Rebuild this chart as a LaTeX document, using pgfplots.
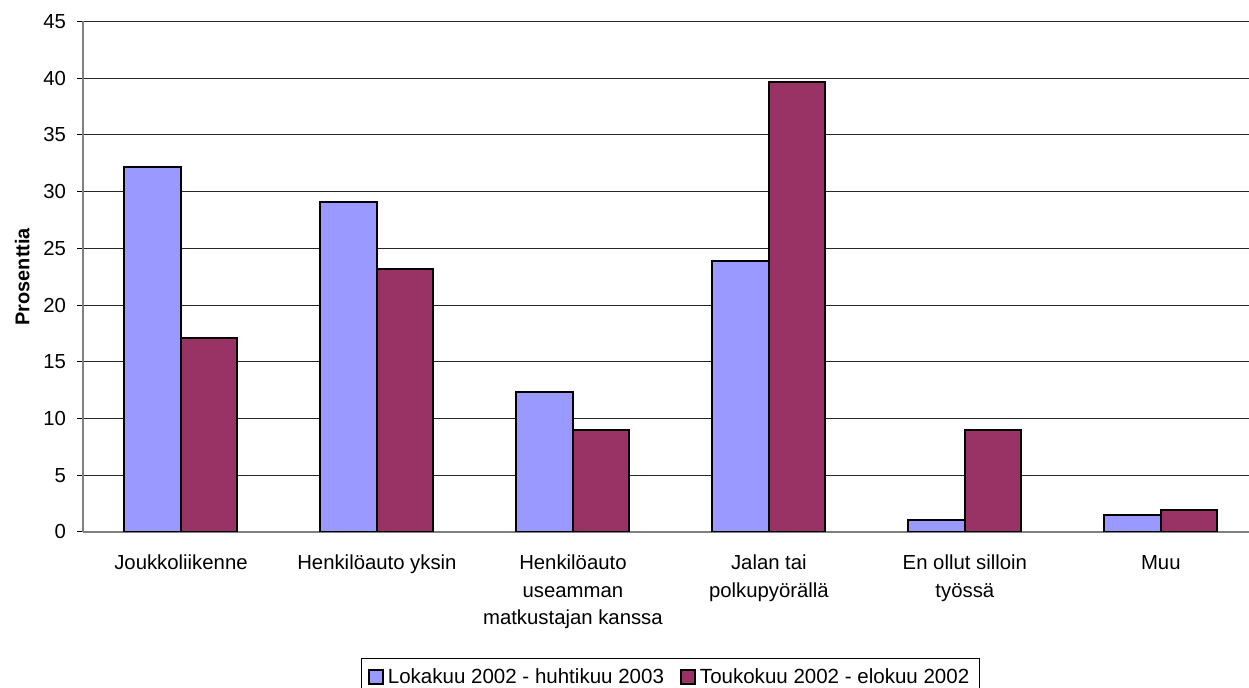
\documentclass[border=0pt]{standalone}
\usepackage{pgfplots}
\pgfplotsset{compat=1.18}
\usepackage{fontspec}
\setmainfont{Liberation Sans}
\definecolor{cblue}{HTML}{9999FF}
\definecolor{cred}{HTML}{993366}
\begin{document}
\begin{tikzpicture}
\begin{axis}[
  scale only axis, width=583bp, height=255.25bp,
  xmin=-0.5, xmax=5.45, ymin=0, ymax=45,
  ybar=0pt, bar width=28.25bp,
  axis x line*=bottom, axis y line*=left,
  axis line style={black!50, line width=0.9bp},
  ytick={0,5,...,45},
  ymajorgrids, grid style={black!85, line width=0.5bp},
  xtick={0,...,5},
  xticklabels={Joukkoliikenne, Henkilöauto yksin, Henkilöauto\\useamman\\matkustajan kanssa, Jalan tai\\polkupyörällä, En ollut silloin\\työssä, Muu},
  x tick style={draw=none},
  extra x ticks={-0.5,0.5,1.5,2.5,3.5,4.5},
  extra x tick labels={},
  extra x tick style={major tick length=3bp, tick style={draw=black, line width=0.5bp}, grid=none},
  tick align=outside, major tick length=3bp,
  y tick style={black, line width=0.5bp},
  /pgf/number format/assume math mode=true,
  yticklabel style={font=\fontsize{10.2}{12}\selectfont, xshift=-2bp},
  xticklabel style={font=\fontsize{10.2}{13.8}\selectfont, align=center, yshift=-5bp},
  ylabel={\bfseries Prosenttia},
  ylabel style={font=\fontsize{11}{12}\selectfont},
  every axis y label/.style={at={(ticklabel cs:0.5)}, rotate=90, anchor=south, xshift=0bp},
  legend columns=2,
  legend style={at={(0.5039,0)}, anchor=north, yshift=-63bp, draw=black, line width=0.5bp,
    font=\fontsize{10.3}{12}\selectfont, inner xsep=3bp, inner ysep=3bp,
    /tikz/every even column/.append style={column sep=6bp}},
  legend image code/.code={\draw[#1, line width=1bp] (0bp,-3.5bp) rectangle (7bp,3.5bp);},
]
\addplot[fill=cblue, draw=black, line width=1bp] coordinates {(0,32.2) (1,29.1) (2,12.3) (3,23.85) (4,1.05) (5,1.5)};
\addplot[fill=cred, draw=black, line width=1bp] coordinates {(0,17.1) (1,23.2) (2,8.95) (3,39.65) (4,8.95) (5,1.93)};
\legend{Lokakuu 2002 - huhtikuu 2003, Toukokuu 2002 - elokuu 2002}
\end{axis}
\pgfresetboundingbox
\path[use as bounding box] ([xshift=-41.5bp,yshift=-78bp]current axis.south west) rectangle ([yshift=10.75bp]current axis.north east);
\end{tikzpicture}
\end{document}
